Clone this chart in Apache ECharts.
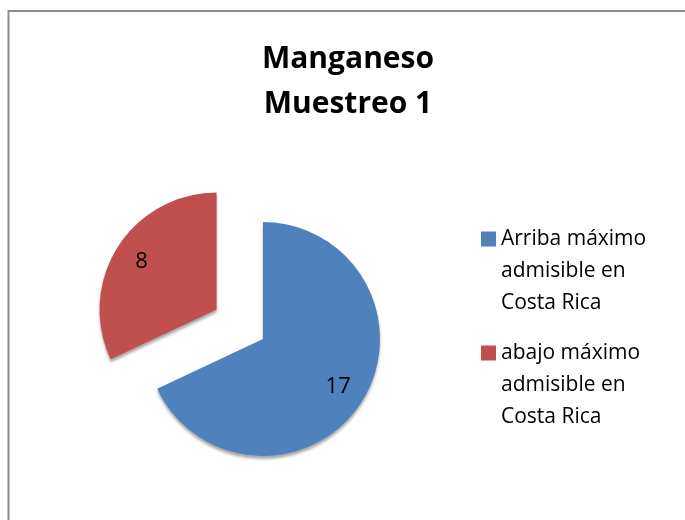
<!DOCTYPE html>
<html>
<head>
<meta charset="utf-8">
<script src="https://cdn.jsdelivr.net/npm/echarts@6/dist/echarts.min.js"></script>
<style>html,body{margin:0;padding:0;background:#fff}#c{width:685px;height:520px}</style>
</head>
<body>
<div id="c"></div>
<script>
const titleText = 'Manganeso\nMuestreo 1';
const categories = ['Arriba máximo\nadmisible en\nCosta Rica', 'abajo máximo\nadmisible en\nCosta Rica'];
const values = [17, 8];
const colors = ['#4F81BD', '#C0504D'];
const exploded = [false, true];

const chart = echarts.init(document.getElementById('c'));
const pieData = categories.map((n, i) => ({
  name: n, value: values[i], selected: exploded[i],
  itemStyle: { color: colors[i] }
}));
const labelData = categories.map((n, i) => ({
  name: n, value: values[i], selected: exploded[i]
}));
chart.setOption({
  animation: false,
  backgroundColor: '#fff',
  graphic: [{
    type: 'rect', silent: true,
    shape: { x: 8.5, y: 11, width: 800, height: 600 },
    style: { fill: 'none', stroke: '#8c8c8c', lineWidth: 2 }
  }],
  title: {
    text: titleText, left: 343, top: 32, textAlign: 'center',
    textStyle: { fontFamily: 'Open Sans', fontWeight: 'bold', fontSize: 30, lineHeight: 45, color: '#000' }
  },
  legend: {
    orient: 'vertical', left: 476, top: 154,
    itemWidth: 15, itemHeight: 15, itemGap: -46,
    icon: 'rect', selectedMode: false,
    data: categories,
    formatter: name => '\n\n' + name,
    textStyle: { fontFamily: 'Open Sans', fontSize: 21, lineHeight: 32, color: '#000' }
  },
  series: [{
    type: 'pie', center: [263, 339], radius: 117, startAngle: 90, clockwise: true,
    selectedMode: 'multiple', selectedOffset: 55, silent: true,
    data: pieData,
    label: { show: false }, labelLine: { show: false },
    itemStyle: { shadowColor: 'rgba(0,0,0,0.35)', shadowBlur: 3, shadowOffsetY: 3 }
  }, {
    type: 'pie', center: [263, 339], radius: 172, startAngle: 90, clockwise: true,
    selectedMode: 'multiple', selectedOffset: 55, silent: true,
    data: labelData,
    itemStyle: { color: 'rgba(0,0,0,0)' },
    label: { show: true, position: 'inside', formatter: '{c}', fontFamily: 'Open Sans', fontSize: 22, color: '#000' },
    labelLine: { show: false }
  }]
});
</script>
</body>
</html>
